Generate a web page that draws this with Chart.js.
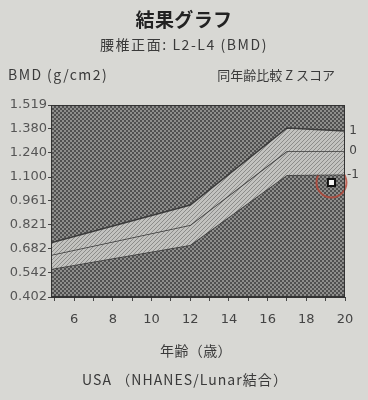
<!DOCTYPE html>
<html><head><meta charset="utf-8">
<script src="https://cdn.jsdelivr.net/npm/chart.js@4"></script>
<style>html,body{margin:0;padding:0;background:#d8d8d4;}canvas{display:block;}</style>
</head><body>
<canvas id="c" width="368" height="400"></canvas>
<script>
// ---- data ----
const ages = [4.8, 12, 17, 20];
const zPlus1 = [0.718, 0.937, 1.385, 1.368];
const zZero = [0.646, 0.821, 1.251, 1.251];
const zMinus1 = [0.565, 0.705, 1.112, 1.115];
const patientAge = [19.3];
const patientBmd = [1.068];
const zLabels = ['1', '0', '-1'];
const yTicks = [0.402, 0.542, 0.682, 0.821, 0.961, 1.100, 1.240, 1.380, 1.519];
const xTickMarks = [5, 6, 7, 8, 9, 10, 11, 12, 13, 14, 15, 16, 17, 18, 19, 20];
const xTickLabels = [6, 8, 10, 12, 14, 16, 18, 20];
const texts = {
  title: '結果グラフ',
  subtitle: '腰椎正面: L2-L4 (BMD)',
  yTitle: 'BMD (g/cm2)',
  zTitle: '同年齢比較 Z スコア',
  xTitle: '年齢（歳）',
  ref: 'USA （NHANES/Lunar結合）'
};

const canvas = document.getElementById('c');
const ctx = canvas.getContext('2d');
function makePattern(size, draw) {
  const c = document.createElement('canvas'); c.width = c.height = size;
  draw(c.getContext('2d')); return ctx.createPattern(c, 'repeat');
}
const darkPat = makePattern(4, g => {
  g.fillStyle = '#8e8e8c'; g.fillRect(0, 0, 4, 4);
  g.fillStyle = '#505050'; g.fillRect(0, 0, 2, 2); g.fillRect(2, 2, 2, 2);
});
const lightPat = makePattern(4, g => {
  g.fillStyle = '#c2c2bf'; g.fillRect(0, 0, 4, 4);
  g.fillStyle = '#8c8c8a';
  for (let i = 0; i < 4; i++) g.fillRect(i, 3 - i, 1, 1);
});

const pts = arr => ages.map((a, i) => ({x: a, y: arr[i]}));
const patient = patientAge.map((a, i) => ({x: a, y: patientBmd[i]}));
const FONT = '"DejaVu Sans", sans-serif';
const JP = '"Noto Sans CJK JP", sans-serif';

function fitText(c, text, x, y, width, align) {
  c.letterSpacing = '0px';
  const w = c.measureText(text).width;
  const n = [...text].length;
  const sp = Math.max(0, (width - w) / n);
  c.letterSpacing = sp.toFixed(2) + 'px';
  const total = w + sp * n;
  let left = x;
  if (align === 'center') left = x - total / 2;
  else if (align === 'right') left = x - total;
  c.textAlign = 'left';
  c.fillText(text, left, y);
  c.letterSpacing = '0px';
}

const decor = {
  id: 'decor',
  beforeDraw(chart) {
    const c = chart.ctx, a = chart.chartArea;
    c.save();
    c.fillStyle = '#d8d8d4'; c.fillRect(0, 0, chart.width, chart.height);
    c.fillStyle = darkPat; c.fillRect(a.left, a.top, a.right - a.left, a.bottom - a.top);
    c.restore();
  },
  afterDraw(chart) {
    const c = chart.ctx, a = chart.chartArea, ys = chart.scales.y;
    c.save();
    c.strokeStyle = '#333'; c.lineWidth = 1;
    c.strokeRect(a.left + 0.5, a.top + 0.5, a.right - a.left - 1, a.bottom - a.top - 1);
    c.textBaseline = 'middle';
    c.fillStyle = '#222';
    c.font = 'bold 19px ' + JP; fitText(c, texts.title, 184, 20, 97, 'center');
    c.fillStyle = '#3a3a3a';
    c.font = '14px ' + JP;
    fitText(c, texts.subtitle, 184, 45, 168, 'center');
    fitText(c, texts.yTitle, 8, 75, 100, 'left');
    c.font = '13px ' + JP;
    fitText(c, texts.zTitle, 335, 75, 113, 'right');
    c.font = '14px ' + JP;
    fitText(c, texts.xTitle, 196, 351, 72, 'center');
    fitText(c, texts.ref, 185, 380, 206, 'center');
    c.font = '12px ' + FONT; c.fillStyle = '#444'; c.textAlign = 'center';
    const ends = [zPlus1, zZero, zMinus1];
    ends.forEach((arr, i) => {
      c.fillText(zLabels[i], 353, ys.getPixelForValue(arr[arr.length - 1]));
    });
    c.restore();
  }
};

new Chart(ctx, {
  type: 'line',
  data: {
    datasets: [
      {data: pts(zPlus1), borderColor: '#3a3a3a', borderWidth: 1.5, pointRadius: 0, fill: '+1', backgroundColor: lightPat, tension: 0},
      {data: pts(zZero), borderColor: '#3a3a3a', borderWidth: 1.5, pointRadius: 0, fill: '+1', backgroundColor: lightPat, tension: 0},
      {data: pts(zMinus1), borderColor: '#3a3a3a', borderWidth: 1.5, pointRadius: 0, fill: false, tension: 0},
      {data: patient, showLine: false, pointStyle: 'circle', pointRadius: 15, borderWidth: 2, pointBorderColor: 'rgba(185,70,55,0.8)', pointBackgroundColor: 'rgba(0,0,0,0)', clip: false},
      {data: patient, showLine: false, pointStyle: 'rect', pointRadius: 5, pointBorderWidth: 2, pointBorderColor: '#111', pointBackgroundColor: '#f4f4f4', clip: false},
      {data: patient, showLine: false, pointStyle: 'rect', pointRadius: 1.8, pointBorderWidth: 0, pointBackgroundColor: '#111', clip: false}
    ]
  },
  options: {
    responsive: false, animation: false, devicePixelRatio: 1,
    layout: {padding: {top: 105, right: 23, left: 0, bottom: 0}},
    plugins: {legend: {display: false}, tooltip: {enabled: false}},
    scales: {
      x: {
        type: 'linear', min: 4.8, max: 20,
        afterBuildTicks: s => { s.ticks = xTickMarks.map(v => ({value: v})); },
        afterFit: s => { s.height = 103; },
        grid: {drawOnChartArea: false, drawTicks: true, tickLength: 4, color: '#444'},
        border: {color: '#333', width: 1},
        ticks: {autoSkip: false, maxRotation: 0, padding: 11, color: '#444', font: {size: 13, family: FONT},
          callback: v => xTickLabels.includes(v) ? String(v) : ''}
      },
      y: {
        type: 'linear', min: 0.402, max: 1.519,
        afterBuildTicks: s => { s.ticks = yTicks.map(v => ({value: v})); },
        afterFit: s => { s.width = 51; },
        grid: {drawOnChartArea: false, drawTicks: true, tickLength: 3, color: '#444'},
        border: {color: '#333', width: 1},
        ticks: {padding: 1, color: '#555', font: {size: 13, family: FONT},
          callback: v => Number(v).toFixed(3)}
      }
    }
  },
  plugins: [decor]
});
</script>
</body></html>
